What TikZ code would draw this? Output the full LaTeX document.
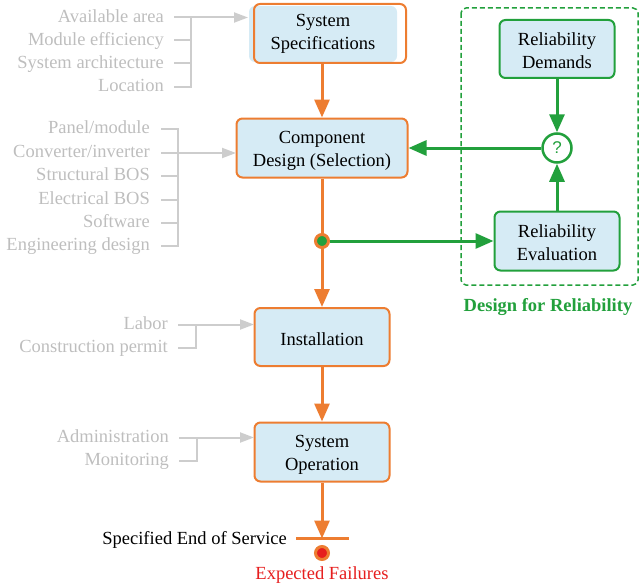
\documentclass[tikz,border=0pt]{standalone}
\usepackage{fontspec}
\setmainfont{Liberation Serif}
\newfontfamily\qfont{Liberation Sans}
\usetikzlibrary{arrows.meta}
\definecolor{orng}{RGB}{237,125,49}
\definecolor{bluefill}{RGB}{214,235,245}
\definecolor{grn}{RGB}{34,160,60}
\definecolor{gtext}{RGB}{190,190,190}
\definecolor{gline}{RGB}{205,205,205}
\definecolor{redd}{RGB}{230,30,30}
\newcommand\tup{\rule{0pt}{17pt}}
\tikzset{
  x=1pt, y=-1pt,
  every node/.style={font=\fontsize{18.5}{23}\selectfont},
  obox/.style={draw=orng, line width=2pt, fill=bluefill, rounded corners=6pt, align=center, inner sep=0pt},
  gbox/.style={draw=grn, line width=2pt, fill=bluefill, rounded corners=6pt, align=center, inner sep=0pt},
  oarrow/.style={draw=orng, line width=3pt, -{Triangle[length=18pt,width=15pt]}},
  garrow/.style={draw=grn, line width=3pt, -{Triangle[length=18pt,width=15pt]}},
  glab/.style={text=gtext, anchor=east, inner sep=0pt, text height=10.5pt, text depth=1pt},
  gl/.style={draw=gline, line width=2pt},
  garr/.style={draw=gline, line width=2pt, -{Triangle[length=14pt,width=10pt]}},
}
\begin{document}
\begin{tikzpicture}
\useasboundingbox (0,0) rectangle (640,586);
% System specifications (fill offset)
\node[fill=bluefill, rounded corners=6pt, minimum width=148pt, minimum height=56pt, align=center, inner sep=0pt] (spec) at (323,34) {System\\Specifications};
\draw[draw=orng, line width=2pt, rounded corners=6pt] (254,4) rectangle (406,63);
\coordinate (specb) at (322,63);
\node[obox, minimum width=171pt, minimum height=59pt] (comp) at (322,148) {\tup Component\\Design (Selection)};
\node[obox, minimum width=135pt, minimum height=58pt] (inst) at (322,337) {\tup Installation};
\node[obox, minimum width=135pt, minimum height=59pt] (oper) at (322,452) {\tup System\\Operation};
% reliability
\draw[draw=grn, line width=1.5pt, dash pattern=on 5pt off 3pt, rounded corners=5pt] (461,8) rectangle (638,285);
\node[gbox, minimum width=115pt, minimum height=58pt] (dem) at (557,49) {\tup Reliability\\Demands};
\node[gbox, minimum width=125pt, minimum height=59pt] (eval) at (557,241) {\tup Reliability\\Evaluation};
\node[circle, draw=grn, line width=2.5pt, fill=white, minimum size=29pt, inner sep=0pt, text=grn, font=\qfont\fontsize{17}{20}\selectfont] (q) at (557,148) {?};
\node[text=grn, font=\bfseries\fontsize{18.5}{23}\selectfont] (dfr) at (548,307.5) {Design for Reliability};
% end
\coordinate (barl) at (296,538.5);
\coordinate (barr) at (349,538.5);
\coordinate (barm) at (322,538.5);
\draw[draw=orng, line width=3pt] (barl) -- (barr);
\node[circle, draw=orng, line width=3pt, fill=redd, minimum size=13pt, inner sep=0pt] (fail) at (322,553) {};
\node[anchor=east, inner sep=0pt] (eos) at (287,539.5) {Specified End of Service};
\node[text=redd] (ef) at (322,575) {Expected Failures};
% junction
\coordinate (junc0) at (322,241);
% orange arrows
\draw[oarrow] (specb) -- (comp.north);
\draw[oarrow] (comp.south) -- (inst.north);
\draw[oarrow] (inst.south) -- (oper.north);
\draw[oarrow] (oper.south) -- (barm);
\node[circle, draw=orng, line width=3pt, fill=grn, minimum size=13pt, inner sep=0pt] (junc) at (junc0) {};
% green arrows
\draw[garrow] (junc.east) -- (eval.west);
\draw[garrow] (dem.south) -- (q.north);
\draw[garrow] (eval.north) -- (q.south);
\draw[garrow] (q.west) -- (comp.east);
% group 1
\node[glab] (a1) at (164,17.5) {Available area};
\node[glab] (a2) at (164,40.5) {Module efficiency};
\node[glab] (a3) at (164,63.5) {System architecture};
\node[glab] (a4) at (164,87) {Location};
\coordinate (ab1) at (191,17.5);
\coordinate (ab4) at (191,87);
\coordinate (at) at (248,17.5);
\draw[gl] ([xshift=10pt]a2.east) -- ++(17,0);
\draw[gl] ([xshift=10pt]a3.east) -- ++(17,0);
\draw[gl] ([xshift=10pt]a4.east) -- (ab4) -- (ab1);
\draw[garr] ([xshift=10pt]a1.east) -- (at);
% group 2
\node[glab] (b1) at (150,129) {Panel/module};
\node[glab] (b2) at (150,153) {Converter/inverter};
\node[glab] (b3) at (150,176) {Structural BOS};
\node[glab] (b4) at (150,199.5) {Electrical BOS};
\node[glab] (b5) at (150,223) {Software};
\node[glab] (b6) at (150,246) {Engineering design};
\coordinate (bb1) at (178,129);
\coordinate (bb6) at (178,246);
\coordinate (bt) at (236,153);
\draw[gl] ([xshift=11pt]b1.east) -- (bb1) -- (bb6) -- ([xshift=11pt]b6.east);
\draw[gl] ([xshift=11pt]b3.east) -- ++(17,0);
\draw[gl] ([xshift=11pt]b4.east) -- ++(17,0);
\draw[gl] ([xshift=11pt]b5.east) -- ++(17,0);
\draw[garr] ([xshift=11pt]b2.east) -- (bt);
% group 3
\node[glab] (c1) at (168,324.5) {Labor};
\node[glab] (c2) at (168,347.5) {Construction permit};
\coordinate (cb1) at (196,324.5);
\coordinate (cb2) at (196,347.5);
\coordinate (ct) at (254,324.5);
\draw[gl] ([xshift=10pt]c2.east) -- (cb2) -- (cb1);
\draw[garr] ([xshift=10pt]c1.east) -- (ct);
% group 4
\node[glab] (d1) at (169,437.5) {Administration};
\node[glab] (d2) at (169,460.5) {Monitoring};
\coordinate (db1) at (197,437.5);
\coordinate (db2) at (197,460.5);
\coordinate (dt) at (254,437.5);
\draw[gl] ([xshift=10pt]d2.east) -- (db2) -- (db1);
\draw[garr] ([xshift=10pt]d1.east) -- (dt);
\end{tikzpicture}
\end{document}
